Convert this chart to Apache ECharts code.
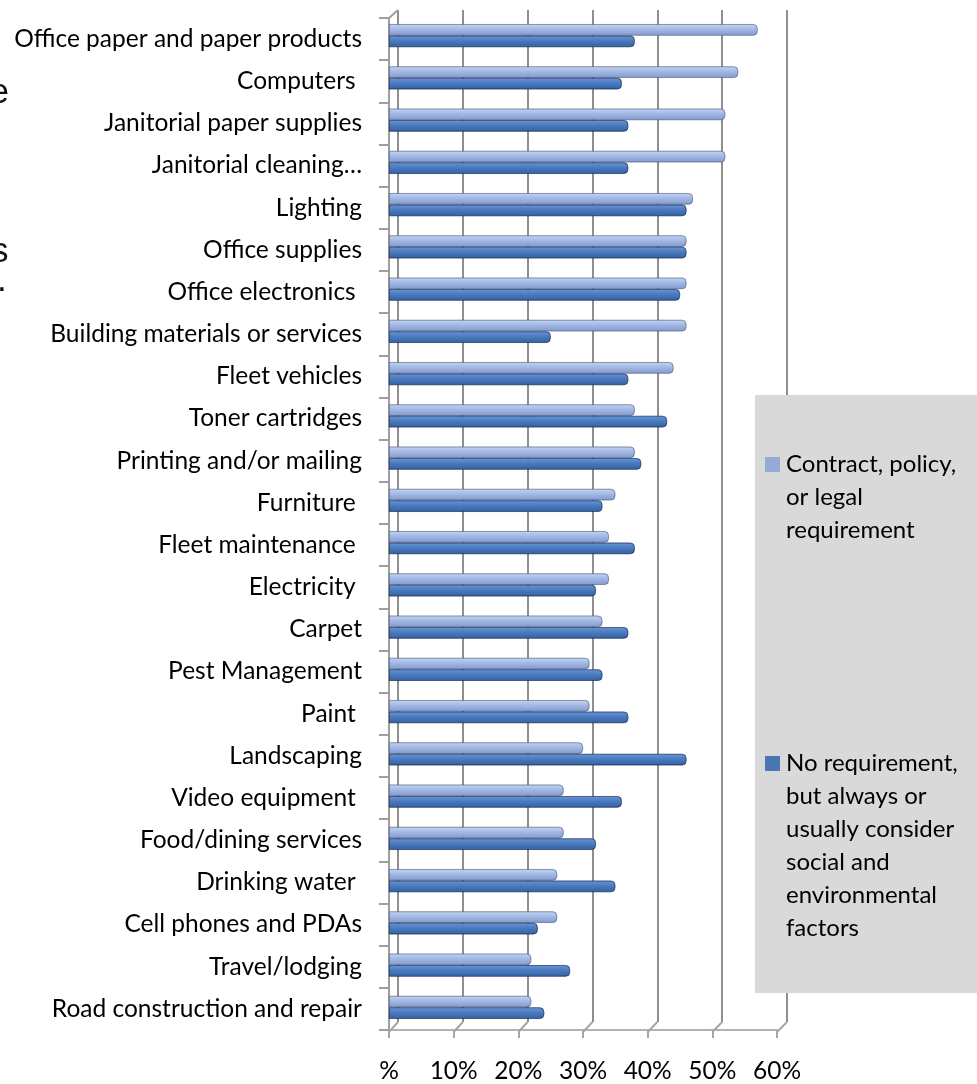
<!DOCTYPE html>
<html>
<head>
<meta charset="utf-8">
<title>Purchasing categories</title>
<script src="https://cdn.jsdelivr.net/npm/echarts@6/dist/echarts.min.js"></script>
<style>
  html, body { margin: 0; padding: 0; background: #fff; }
  #chart { width: 977px; height: 1084px; }
</style>
</head>
<body>
<div id="chart"></div>
<script>
const categories = [
  'Office paper and paper products', 'Computers ', 'Janitorial paper supplies', 'Janitorial cleaning…',
  'Lighting', 'Office supplies', 'Office electronics ', 'Building materials or services',
  'Fleet vehicles', 'Toner cartridges', 'Printing and/or mailing', 'Furniture ',
  'Fleet maintenance ', 'Electricity ', 'Carpet', 'Pest Management',
  'Paint ', 'Landscaping', 'Video equipment ', 'Food/dining services',
  'Drinking water ', 'Cell phones and PDAs', 'Travel/lodging', 'Road construction and repair'
]
const contractReq = [57, 54, 52, 52, 47, 46, 46, 46, 44, 38, 38, 35, 34, 34, 33, 31, 31, 30, 27, 27, 26, 26, 22, 22]
const noReqConsider = [38, 36, 37, 37, 46, 46, 45, 25, 37, 43, 39, 33, 38, 32, 37, 33, 37, 46, 36, 32, 35, 23, 28, 24]
const pctTicks = [0, 10, 20, 30, 40, 50, 60]
const legendNames = ['Contract, policy,\nor legal\nrequirement', 'No requirement,\nbut always or\nusually consider\nsocial and\nenvironmental\nfactors']

const FONT = 'Lato'
const FONT_SIZE = 24.5
const chart = echarts.init(document.getElementById('chart'), null, { renderer: 'canvas' })

// cylinder look: light band on top, darker underside
const lightFill = new echarts.graphic.LinearGradient(0, 0, 0, 1, [
  { offset: 0, color: '#c4d4f2' },
  { offset: 0.45, color: '#a2b8e5' },
  { offset: 1, color: '#8399cb' }
])
const darkFill = new echarts.graphic.LinearGradient(0, 0, 0, 1, [
  { offset: 0, color: '#6a95d6' },
  { offset: 0.45, color: '#4a7bc0' },
  { offset: 1, color: '#34609f' }
])

const option = {
  animation: false,
  backgroundColor: '#fff',
  grid: [
    { left: 389, top: 18, width: 388, height: 1014 },   // front: axes + labels
    { left: 398, top: 10, width: 389, height: 1012 },   // back wall gridlines
    { left: 389, top: 14.5, width: 388, height: 1014 }  // bars
  ],
  xAxis: [
    {
      gridIndex: 0, type: 'value', min: 0, max: 60, interval: 10,
      axisLine: { show: true, lineStyle: { color: '#b3b3b3', width: 2 } },
      axisTick: { show: true, length: 8, lineStyle: { color: '#a6a6a6', width: 2 } },
      splitLine: { show: false },
      axisLabel: {
        margin: 29, fontFamily: FONT, fontSize: FONT_SIZE, color: '#000',
        formatter: v => (v === 0 ? '%' : v + '%')
      }
    },
    {
      gridIndex: 1, type: 'value', min: 0, max: 60, interval: 10,
      axisLine: { show: false }, axisTick: { show: false }, axisLabel: { show: false },
      splitLine: { show: true, lineStyle: { color: '#8f8f8f', width: 2 } }
    },
    { gridIndex: 2, type: 'value', min: 0, max: 60, show: false, splitLine: { show: false } }
  ],
  yAxis: [
    {
      gridIndex: 0, type: 'category', data: categories, inverse: true,
      axisLine: { show: true, lineStyle: { color: '#9e9e9e', width: 2 } },
      axisTick: { show: true, length: 10, lineStyle: { color: '#9e9e9e', width: 2 } },
      axisLabel: { margin: 27, fontFamily: FONT, fontSize: FONT_SIZE, color: '#000' }
    },
    { gridIndex: 1, type: 'category', data: categories, inverse: true, show: false },
    { gridIndex: 2, type: 'category', data: categories, inverse: true, show: false }
  ],
  series: [
    {
      name: legendNames[0].replace(/\n/g, ' '),
      type: 'bar', xAxisIndex: 2, yAxisIndex: 2,
      data: contractReq,
      barWidth: 11.5, barGap: '0%',
      itemStyle: { color: lightFill, borderRadius: [0, 4, 4, 0], borderColor: 'rgba(80,95,130,0.55)', borderWidth: 0.7 }
    },
    {
      name: legendNames[1].replace(/\n/g, ' '),
      type: 'bar', xAxisIndex: 2, yAxisIndex: 2,
      data: noReqConsider,
      barWidth: 11.5, barGap: '0%',
      itemStyle: { color: darkFill, borderRadius: [0, 4, 4, 0], borderColor: 'rgba(25,45,85,0.6)', borderWidth: 0.7 }
    }
  ]
}

chart.setOption(option)

// floor / wall corner joins between front axis and back wall
const joins = pctTicks.map(v => {
  const xf = chart.convertToPixel({ xAxisIndex: 0 }, v)
  const xb = chart.convertToPixel({ xAxisIndex: 1 }, v)
  return {
    type: 'line', z: 5,
    shape: { x1: xf, y1: 1032, x2: xb, y2: 1022 },
    style: { stroke: '#a6a6a6', lineWidth: 2 }
  }
})
joins.push({
  type: 'line', z: 5,
  shape: { x1: chart.convertToPixel({ xAxisIndex: 0 }, 0), y1: 18, x2: chart.convertToPixel({ xAxisIndex: 1 }, 0), y2: 10 },
  style: { stroke: '#9e9e9e', lineWidth: 2 }
})

const legendBox = [
  { type: 'rect', z: 20, shape: { x: 755, y: 395, width: 240, height: 598 }, style: { fill: '#d9d9d9' } },
  { type: 'rect', z: 21, shape: { x: 765, y: 457, width: 15, height: 15 }, style: { fill: '#95abd5' } },
  {
    type: 'text', z: 21, x: 786, y: 447.5,
    style: { text: legendNames[0], font: '24px ' + FONT, fill: '#000', lineHeight: 33, verticalAlign: 'top' }
  },
  { type: 'rect', z: 21, shape: { x: 765, y: 756, width: 15, height: 15 }, style: { fill: '#4a76b4' } },
  {
    type: 'text', z: 21, x: 786, y: 747,
    style: { text: legendNames[1], font: '24px ' + FONT, fill: '#000', lineHeight: 33, verticalAlign: 'top' }
  }
]

// slide text cut off at the left edge
const cutText = [
  { type: 'text', x: -10.5, y: 93, style: { text: 'e', font: '35px "Liberation Sans"', fill: '#111', verticalAlign: 'middle' } },
  { type: 'text', x: -9, y: 252, style: { text: 's', font: '35px "Liberation Sans"', fill: '#111', verticalAlign: 'middle' } },
  { type: 'text', x: -3, y: 281, style: { text: '.', font: '35px "Liberation Sans"', fill: '#111', verticalAlign: 'middle' } }
]

chart.setOption({ graphic: joins.concat(legendBox, cutText) })

window.addEventListener('resize', () => chart.resize())
</script>
</body>
</html>
